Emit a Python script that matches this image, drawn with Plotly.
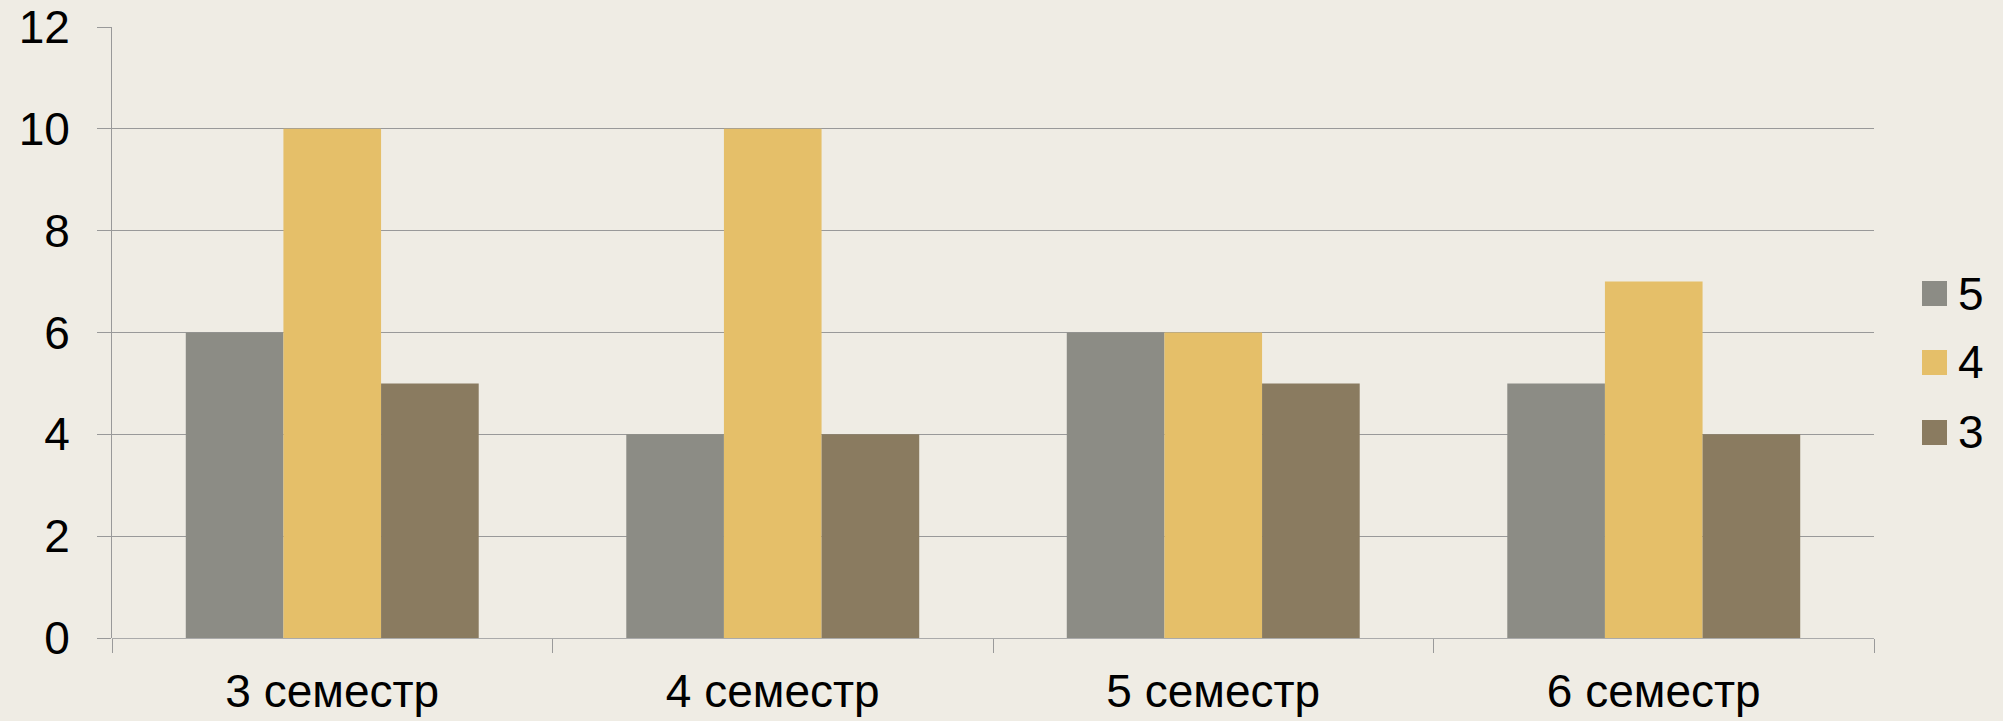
import plotly.graph_objects as go

categories = ["3 семестр", "4 семестр", "5 семестр", "6 семестр"]
series_names = ["5", "4", "3"]
values_5 = [6, 4, 6, 5]
values_4 = [10, 10, 6, 7]
values_3 = [5, 4, 5, 4]
y_ticks = [0, 2, 4, 6, 8, 10, 12]
colors = ["#8C8C85", "#E5BF69", "#8A7B60"]

series_values = [values_5, values_4, values_3]

W, H = 2003, 721
ML, MR, MT, MB = 112, 129, 27, 83
PW = W - ML - MR
PH = H - MT - MB
FONT = "Liberation Sans, Arial, sans-serif"
FS = 46

fig = go.Figure()
for name, vals, col in zip(series_names, series_values, colors):
    fig.add_trace(go.Bar(x=categories, y=vals, name=name, marker_color=col,
                         marker_line_width=0, showlegend=False))

def px_x(p):
    return (p - ML) / PW

def px_y(p):
    return (H - MB - p) / PH

# manual legend (large square keys)
legend_centers = [293.5, 362.5, 432.5]
shapes = []
annotations = []
for name, col, cy in zip(series_names, colors, legend_centers):
    shapes.append(dict(type="rect", xref="paper", yref="paper",
                       x0=px_x(1922), x1=px_x(1947),
                       y0=px_y(cy + 12.5), y1=px_y(cy - 12.5),
                       fillcolor=col, line_width=0))
    annotations.append(dict(xref="paper", yref="paper", x=px_x(1956), y=px_y(cy),
                            xanchor="left", yanchor="middle", text=name, showarrow=False,
                            font=dict(family=FONT, size=FS, color="#000000")))

fig.update_layout(
    width=W, height=H,
    margin=dict(l=ML, r=MR, t=MT, b=MB, autoexpand=False),
    paper_bgcolor="#EFECE4", plot_bgcolor="#EFECE4",
    barmode="group", bargap=0.335, bargroupgap=0,
    font=dict(family=FONT, size=FS, color="#000000"),
    shapes=shapes, annotations=annotations,
    showlegend=False,
)
fig.update_xaxes(
    type="category", tickson="boundaries", ticks="outside", ticklen=14,
    tickcolor="#9a9a9a", tickwidth=1, showgrid=False, showline=False,
    tickfont=dict(family=FONT, size=FS), ticklabelstandoff=22, automargin=False,
)
fig.update_yaxes(
    range=[0, 12], tickvals=y_ticks, ticks="outside", ticklen=14,
    tickcolor="#999999", tickwidth=1, showgrid=True, gridcolor="#999999", gridwidth=1,
    showline=True, linecolor="#999999", linewidth=1, zeroline=True, zerolinecolor="#aaaaaa",
    zerolinewidth=1, tickfont=dict(family=FONT, size=FS), ticklabelstandoff=18,
    automargin=False,
)

fig.write_html("out.html", config={"displayModeBar": False},
               post_script="document.body.style.margin='0';")
